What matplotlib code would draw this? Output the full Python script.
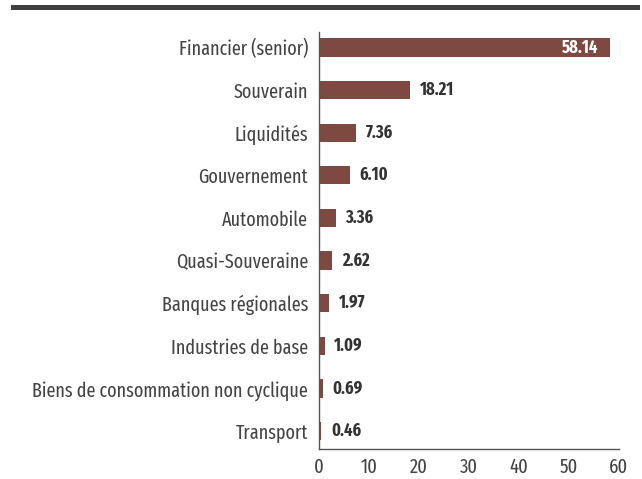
import matplotlib
matplotlib.use("Agg")
import matplotlib.pyplot as plt

categories = [
    "Financier (senior)",
    "Souverain",
    "Liquidités",
    "Gouvernement",
    "Automobile",
    "Quasi-Souveraine",
    "Banques régionales",
    "Industries de base",
    "Biens de consommation non cyclique",
    "Transport",
]
values = [58.14, 18.21, 7.36, 6.10, 3.36, 2.62, 1.97, 1.09, 0.69, 0.46]
xticks = [0, 10, 20, 30, 40, 50, 60]

family = ["Fira Sans Extra Condensed", "Liberation Sans Narrow", "DejaVu Sans"]

BAR = "#7d4941"
TEXT = "#444444"

fig = plt.figure(figsize=(6.42, 4.79), dpi=100)
# thick rule across the top
fig.add_artist(plt.Line2D([0.021, 0.992], [0.986, 0.986], color="#404040", lw=3.6,
                          transform=fig.transFigure))
ax = fig.add_axes([0.497, 0.0626, 0.467, 0.8704])

ypos = list(range(len(categories)))
ax.barh(ypos, values, height=0.43, color=BAR)
ax.set_ylim(9.42, -0.36)
ax.set_xlim(0, 60)
ax.set_xticks(xticks)
ax.set_xticklabels([str(t) for t in xticks], family=family, fontsize=14.5, color=TEXT)
ax.set_yticks(ypos)
ax.set_yticklabels(categories, family=family, fontsize=14.2, color=TEXT)
ax.tick_params(length=0, pad=8)
ax.tick_params(axis="x", pad=6)
for s in ["top", "right"]:
    ax.spines[s].set_visible(False)
for s in ["left", "bottom"]:
    ax.spines[s].set_color("#555555")
    ax.spines[s].set_linewidth(1.0)

for y, v in zip(ypos, values):
    if v > 40:
        ax.annotate(f"{v:.2f}", (v, y), xytext=(-8, 0), textcoords="offset points",
                    ha="right", va="center", color="white", fontweight="bold",
                    family=family, fontsize=12.8)
    else:
        ax.annotate(f"{v:.2f}", (v, y), xytext=(7, 0), textcoords="offset points",
                    ha="left", va="center", color="#333333", fontweight="bold",
                    family=family, fontsize=12.8)

fig.savefig("out.png", dpi=100)
